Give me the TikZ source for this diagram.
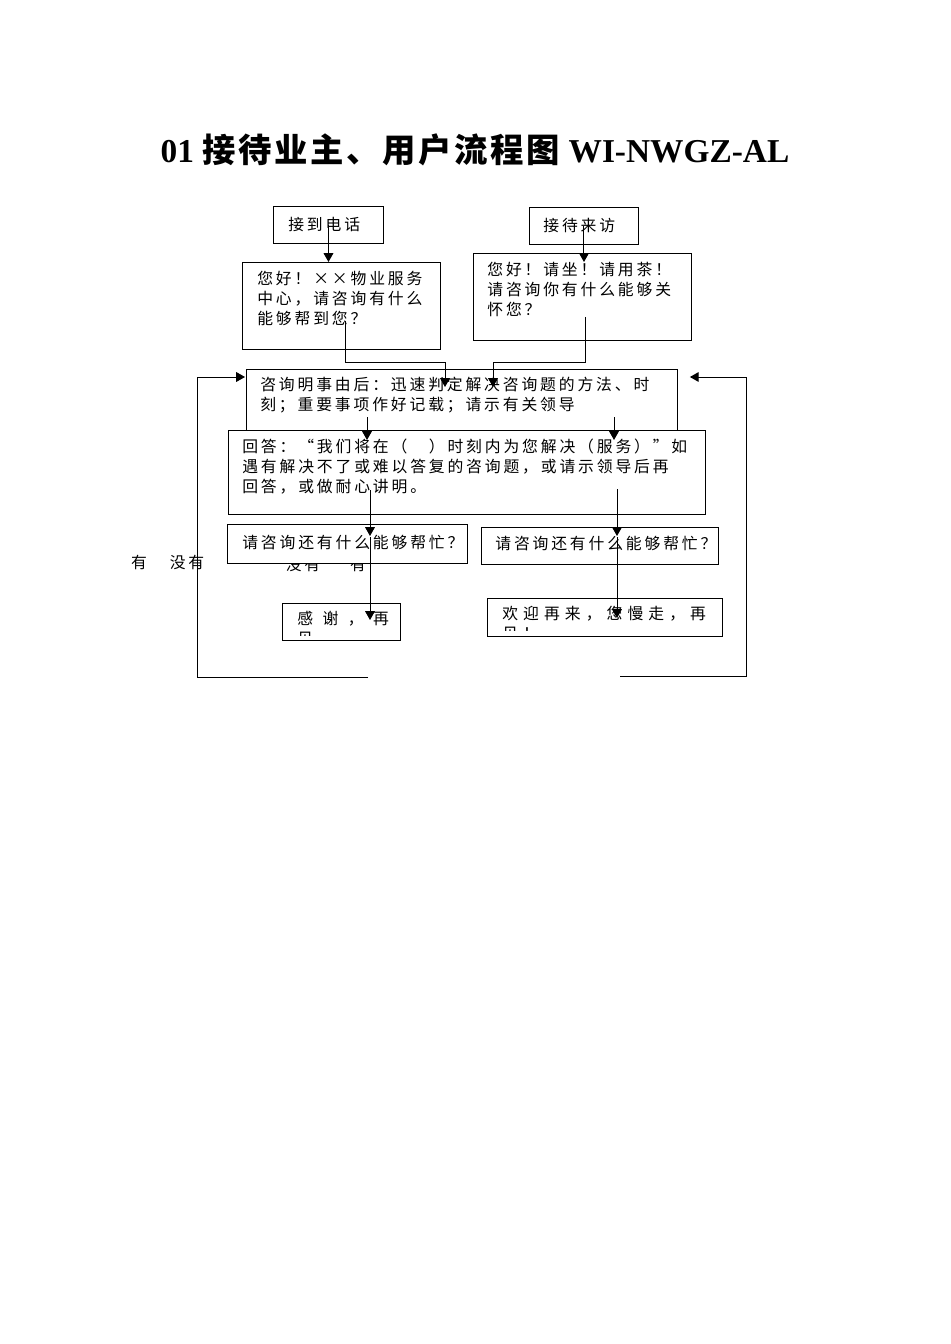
\documentclass[tikz,border=0pt]{standalone}
\usepackage{fontspec}
\setmainfont{Liberation Serif}
\newfontfamily\cjk[LetterSpace=18]{Noto Sans CJK SC}
\newfontfamily\cjkt[LetterSpace=8]{Noto Sans CJK SC}
\usetikzlibrary{arrows.meta, calc, positioning}

\begin{document}
\begin{tikzpicture}[x=0.02cm, y=-0.02cm,
box/.style={
	draw,
	line width=0.55pt,
	fill=white,
	inner sep=0pt,
	anchor=north west},
txt/.style={
	font=\cjk\fontsize{9}{11.3}\selectfont,
	align=left,
	inner sep=0pt,
	anchor=north west},
line/.style={
	draw,
	line width=0.55pt},
arr/.style={
	line,
	-{Triangle[length=5pt, width=5.5pt]}}]

\useasboundingbox (0,0) rectangle (950,1344);

%Title
\node[font=\fontsize{19}{23}\selectfont\bfseries] (title) at (475,150) {01 {\cjkt 接待业主、用户流程图} WI-NWGZ-AL};

%Labels (partly under the boxes)
\node[txt, anchor=center] (yesA) at (139,562) {有};
\node[txt, anchor=center] (noA) at (187,562) {没有};
\node[txt, anchor=center] (noB) at (303,564) {没有};
\node[txt, anchor=center] (yesB) at (358,564) {有};

%Boxes
\node[box, minimum width=2.2cm, minimum height=0.74cm] (tel) at (273,206) {};
\node[box, minimum width=2.18cm, minimum height=0.74cm] (visit) at (529,207) {};
\node[box, minimum width=3.96cm, minimum height=1.74cm] (greetT) at (242,262) {};
\node[box, minimum width=4.36cm, minimum height=1.74cm] (greetV) at (473,253) {};
\node[box, minimum width=8.62cm, minimum height=1.4cm] (ask) at (246,369) {};
\node[box, minimum width=9.54cm, minimum height=1.68cm] (reply) at (228,430) {};
\node[box, minimum width=4.8cm, minimum height=0.78cm] (moreL) at (227,524) {};
\node[box, minimum width=4.74cm, minimum height=0.74cm] (moreR) at (481,527) {};
\node[box, minimum width=2.36cm, minimum height=0.74cm] (byeL) at (282,603) {};
\node[box, minimum width=4.7cm, minimum height=0.76cm] (byeR) at (487,598) {};

%Texts
\node[txt, anchor=west] (telT) at ($(tel.west)+(15,0)$) {接到电话};
\node[txt, anchor=west] (visitT) at ($(visit.west)+(14,0)$) {接待来访};
\node[txt] (greetTT) at ($(greetT.north west)+(15,9)$) {您好！××物业服务\\中心，请咨询有什么\\能够帮到您？};
\node[txt] (greetVT) at ($(greetV.north west)+(14,9)$) {您好！请坐！请用茶！\\请咨询你有什么能够关\\怀您？};
\node[txt] (askT) at ($(ask.north west)+(14,8)$) {咨询明事由后：迅速判定解决咨询题的方法、时\\刻；重要事项作好记载；请示有关领导};
\node[txt] (replyT) at ($(reply.north west)+(14,9)$) {回答：“我们将在（　）时刻内为您解决（服务）”如\\遇有解决不了或难以答复的咨询题，或请示领导后再\\回答，或做耐心讲明。};
\node[txt, anchor=west] (moreLT) at ($(moreL.west)+(15,-1)$) {请咨询还有什么能够帮忙？};
\node[txt, anchor=west] (moreRT) at ($(moreR.west)+(14,-2)$) {请咨询还有什么能够帮忙？};
\begin{scope}
\clip (282,603) rectangle (400,635);
\node[txt, font=\cjk\fontsize{9}{11.3}\selectfont\addfontfeature{LetterSpace=60}] (byeLT) at ($(byeL.north west)+(15,8)$) {感谢，再\\见};
\end{scope}
\begin{scope}
\clip (487,598) rectangle (722,630);
\node[txt, font=\cjk\fontsize{9}{11.3}\selectfont\addfontfeature{LetterSpace=32}] (byeRT) at ($(byeR.north west)+(15,8)$) {欢迎再来，您慢走，再\\见！};
\end{scope}

%Connectors
\path[arr] (tel.center) -- (tel.center |- greetT.north);
\path[arr] (visit.center) -- ($(visit.center |- greetV.north)+(0,9)$);
\path[arr] ($(greetT.south west)+(103,-29)$) |- ($(ask.north west)+(199,-7)$) -- ($(ask.north west)+(199,18)$);
\path[arr] ($(greetV.south west)+(112,-24)$) |- ($(ask.north west)+(247,-7)$) -- ($(ask.north west)+(247,18)$);
\path[arr] ($(ask.north west)+(121,48)$) -- ++(0,23);
\path[arr] ($(ask.north west)+(368,48)$) -- ++(0,23);
\path[arr] ($(reply.north west)+(142,60)$) -- ($(moreL.north west)+(143,12)$);
\path[arr] ($(moreL.north west)+(143,13)$) -- ($(byeL.north west)+(88,17)$);
\path[arr] ($(reply.north west)+(389,59)$) -- ($(moreR.north west)+(136,9)$);
\path[arr] ($(moreR.north west)+(136,10)$) -- ($(byeR.north west)+(130,20)$);

%Loops back
\path[arr] ($(byeL.south west)+(86,37)$) -| ($(ask.north west)+(-49,8)$) -- ($(ask.north west)+(-1,8)$);
\path[arr] ($(byeR.south west)+(133,40)$) -| ($(ask.north east)+(69,8)$) -- ($(ask.north east)+(12,8)$);
\end{tikzpicture}
\end{document}
